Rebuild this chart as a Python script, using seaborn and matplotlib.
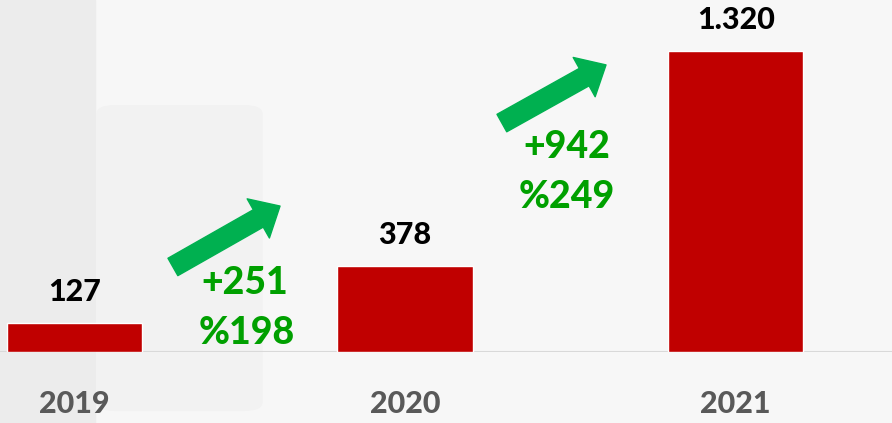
import numpy as np
import pandas as pd
import seaborn as sns
import matplotlib.pyplot as plt
from matplotlib.patches import Rectangle, FancyBboxPatch

# data
years = ["2019", "2020", "2021"]
values = [127, 378, 1320]
value_labels = ["127", "378", "1.320"]
diff_labels = ["+251", "+942"]
pct_labels = ["%198", "%249"]

df = pd.DataFrame({"year": years, "value": values})

sns.set_style("white")
plt.rcParams["font.family"] = ["Lato", "DejaVu Sans"]

fig = plt.figure(figsize=(8.92, 4.23), dpi=100, facecolor="#F7F7F7")

# faint background shapes
fig.add_artist(Rectangle((0, 0), 95 / 892, 1, transform=fig.transFigure,
                         color="#ECECEC", zorder=-3))
fig.add_artist(FancyBboxPatch((97 / 892, 0.03), 165 / 892, 0.72,
                              boxstyle="round,pad=0,rounding_size=0.02",
                              transform=fig.transFigure, color="#F2F2F2", zorder=-2))

ax = fig.add_axes([0, 71 / 423, 1, 352 / 423])
ax.set_facecolor("none")

sns.barplot(data=df, x="year", y="value", color="#C00000", width=0.41,
            saturation=1, ax=ax, zorder=3)

ax.set_xlim(-0.225, 2.473)
ax.set_ylim(0, 1320 * 352 / 301)
ax.axhline(0, color="#D9D9D9", lw=1.5, zorder=2)
sns.despine(ax=ax, left=True, bottom=True, top=True, right=True)
ax.set_yticks([])
ax.set_xlabel("")
ax.set_ylabel("")
ax.tick_params(axis="x", length=0, pad=27, labelsize=22, labelcolor="#595959")
for t in ax.get_xticklabels():
    t.set_fontweight("black")

# value labels above bars
for i, (v, lab) in enumerate(zip(values, value_labels)):
    ax.text(i, v + 135, lab, ha="center", va="center", fontsize=22,
            fontweight="black", color="black")

# growth arrows and text
arrow_x = [(0.298, 0.622), (1.293, 1.608)]
arrow_y = [(373, 640), (1004, 1259)]
diff_pos = [(0.516, 303), (1.49, 899)]
pct_pos = [(0.52, 83), (1.49, 680)]
for k in range(2):
    ax.annotate("", xy=(arrow_x[k][1], arrow_y[k][1]),
                xytext=(arrow_x[k][0], arrow_y[k][0]),
                arrowprops=dict(arrowstyle="simple,head_length=0.5,head_width=0.9,tail_width=0.4",
                                mutation_scale=36, color="#00B050",
                                shrinkA=0, shrinkB=0), zorder=4)
    ax.text(diff_pos[k][0], diff_pos[k][1], diff_labels[k], ha="center", va="center",
            fontsize=27, fontweight="black", color="#00A000")
    ax.text(pct_pos[k][0], pct_pos[k][1], pct_labels[k], ha="center", va="center",
            fontsize=27, fontweight="black", color="#00A000")

fig.savefig("out.png", dpi=100, facecolor=fig.get_facecolor())
